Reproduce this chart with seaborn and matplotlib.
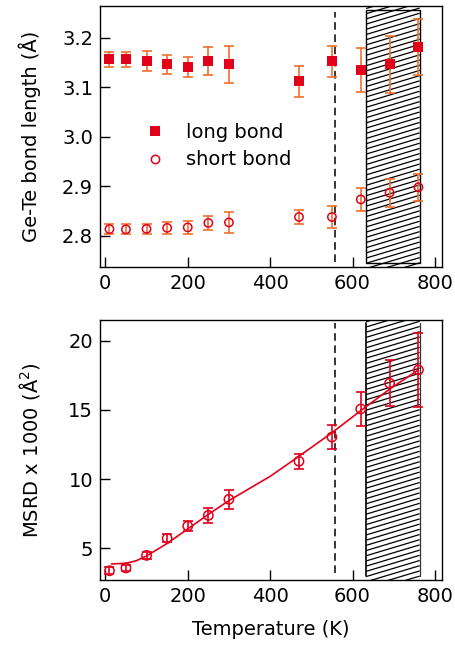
import numpy as np
import pandas as pd
import matplotlib
matplotlib.use("Agg")
import matplotlib.pyplot as plt
import seaborn as sns
from matplotlib.patches import Rectangle
from matplotlib.collections import LineCollection
from matplotlib.lines import Line2D

# ---------------- data ----------------
temperature = [10, 50, 100, 150, 200, 250, 300, 470, 550, 620, 690, 760]
long_bond = [3.156, 3.156, 3.153, 3.146, 3.141, 3.153, 3.146, 3.112, 3.152, 3.135, 3.146, 3.181]
long_err = [0.015, 0.015, 0.020, 0.020, 0.021, 0.028, 0.038, 0.031, 0.031, 0.044, 0.058, 0.057]
short_bond = [2.8135, 2.813, 2.814, 2.816, 2.817, 2.826, 2.827, 2.838, 2.838, 2.8735, 2.887, 2.898]
short_err = [0.010, 0.010, 0.010, 0.0125, 0.0125, 0.0145, 0.021, 0.015, 0.0225, 0.0235, 0.028, 0.0275]
msrd = [3.38, 3.58, 4.49, 5.72, 6.61, 7.38, 8.54, 11.29, 13.04, 15.07, 16.93, 17.89]
msrd_err = [0.25, 0.24, 0.23, 0.29, 0.39, 0.54, 0.71, 0.54, 0.85, 1.23, 1.67, 2.66]
fit_T = [15, 50, 75, 100, 150, 200, 250, 300, 400, 470, 550, 620, 690, 760]
fit_msrd = [3.87, 3.92, 4.1, 4.45, 5.35, 6.4, 7.45, 8.45, 10.2, 11.65, 13.35, 14.95, 16.5, 17.9]
tc_line = 558          # dashed transition line (K)
region = [633, 763]    # hatched region (K)

top_ticks = [2.8, 2.9, 3.0, 3.1, 3.2]
bot_ticks = [5, 10, 15, 20]
x_ticks = [0, 200, 400, 600, 800]

df = pd.DataFrame({"T": temperature, "long": long_bond, "short": short_bond, "msrd": msrd})
fit_df = pd.DataFrame({"T": fit_T, "msrd": fit_msrd})

RED = "#e3001b"
ORANGE = "#f0702e"
FS = 14

sns.set_style("ticks")
plt.rcParams["font.family"] = ["DejaVu Sans"]
plt.rcParams["font.size"] = FS
plt.rcParams["text.color"] = "black"
plt.rcParams["axes.labelcolor"] = "black"
plt.rcParams["xtick.color"] = "black"
plt.rcParams["ytick.color"] = "black"

fig = plt.figure(figsize=(4.55, 6.51), dpi=100)
ax1 = fig.add_axes([100 / 455, 1 - 267 / 651, 341.5 / 455, 261 / 651])
ax2 = fig.add_axes([100 / 455, 1 - 580 / 651, 341.5 / 455, 260 / 651])

for ax in (ax1, ax2):
    for s in ax.spines.values():
        s.set_color("black")
        s.set_linewidth(1.0)
    ax.tick_params(direction="in", length=7, width=1, colors="black",
                   labelcolor="black", labelsize=FS, pad=5)
    ax.set_xlim(-13, 816)
    ax.set_xticks(x_ticks)

ax1.set_ylim(2.737, 3.264)
ax2.set_ylim(2.71, 21.5)
ax1.set_yticks(top_ticks)
ax1.set_yticklabels([f"{v:.1f}" for v in top_ticks])
ax2.set_yticks(bot_ticks)


def hatch_region(ax, x0, x1, f0, f1, outline=True):
    fig.canvas.draw()
    lo, hi = ax.get_ylim()
    y0 = lo + (hi - lo) * f0
    y1 = lo + (hi - lo) * f1
    rect = Rectangle((x0, y0), x1 - x0, y1 - y0, facecolor="white", edgecolor="none", zorder=1)
    ax.add_patch(rect)
    (dx0, dy0) = ax.transData.transform((x0, y0))
    (dx1, dy1) = ax.transData.transform((x1, y1))
    slope = 0.3
    spacing = 5.2
    segs = []
    c = dy0 - slope * (dx1 - dx0)
    inv = ax.transData.inverted()
    while c < dy1 + spacing:
        p0 = inv.transform((dx0, c))
        p1 = inv.transform((dx1, c + slope * (dx1 - dx0)))
        segs.append([p0, p1])
        c += spacing
    lc = LineCollection(segs, colors="black", linewidths=0.9, zorder=1.5)
    lc.set_clip_path(rect)
    ax.add_collection(lc)
    if outline:
        ax.add_patch(Rectangle((x0, y0), x1 - x0, y1 - y0, facecolor="none",
                               edgecolor="black", linewidth=1.0, zorder=1.6))
    else:
        ax.plot([x0, x0], [y0, y1], color="black", lw=1.2, zorder=1.6)
        ax.plot([x1, x1], [y0, y1], color="#333333", lw=0.9, zorder=1.6)


hatch_region(ax1, region[0], region[1], 0.016, 0.984, outline=True)
hatch_region(ax2, region[0], region[1], 0.015, 0.987, outline=False)

ax1.axvline(tc_line, ymin=0.02, ymax=0.977, color="black", lw=1.1, ls=(0, (5, 3)), zorder=2)
ax2.axvline(tc_line, ymin=0.026, ymax=0.987, color="black", lw=1.1, ls=(0, (5, 3)), zorder=2)

# ---- top panel ----
ax1.errorbar(df["T"], df["long"], yerr=long_err, fmt="none", ecolor=ORANGE,
             elinewidth=1.2, capsize=3.5, capthick=1.2, zorder=3)
ax1.errorbar(df["T"], df["short"], yerr=short_err, fmt="none", ecolor=ORANGE,
             elinewidth=1.2, capsize=3.5, capthick=1.2, zorder=3)
sns.scatterplot(data=df, x="T", y="long", marker="s", s=62, color=RED,
                edgecolor=RED, linewidth=0, ax=ax1, zorder=4, legend=False)
sns.scatterplot(data=df, x="T", y="short", marker="o", s=36, facecolor="none",
                edgecolor=RED, linewidth=1.1, ax=ax1, zorder=4, legend=False)

handles = [
    Line2D([], [], marker="s", ls="none", color=RED, markersize=7.5, markeredgewidth=0),
    Line2D([], [], marker="o", ls="none", markerfacecolor="none", markeredgecolor=RED,
           markersize=6, markeredgewidth=1.1),
]
leg = ax1.legend(handles, ["long bond", "short bond"], loc="upper left",
                 bbox_to_anchor=(0.105, 0.59), frameon=False, fontsize=FS,
                 handlelength=1.0, handletextpad=1.1, labelspacing=0.45, borderpad=0)
for t in leg.get_texts():
    t.set_color("black")

ax1.set_xlabel("")
ax1.set_ylabel("Ge-Te bond length (Å)", fontsize=FS, labelpad=15)

# ---- bottom panel ----
sns.lineplot(data=fit_df, x="T", y="msrd", color=RED, lw=1.2, ax=ax2, zorder=3)
ax2.errorbar(df["T"], df["msrd"], yerr=msrd_err, fmt="none", ecolor=RED,
             elinewidth=1.2, capsize=3.5, capthick=1.2, zorder=4)
sns.scatterplot(data=df, x="T", y="msrd", marker="o", s=45, facecolor="none",
                edgecolor=RED, linewidth=1.1, ax=ax2, zorder=5, legend=False)

ax2.set_xlabel("Temperature (K)", fontsize=FS, labelpad=10)
ax2.set_ylabel("MSRD x 1000 (Å$^2$)", fontsize=FS, labelpad=19)

fig.savefig("out.png", dpi=100)
